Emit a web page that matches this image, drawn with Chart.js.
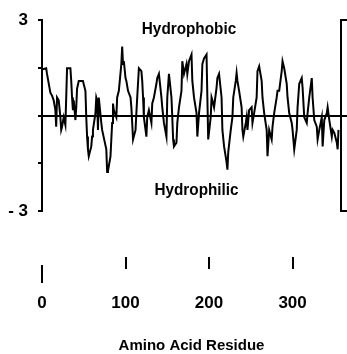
<!DOCTYPE html>
<html><head><meta charset="utf-8">
<script src="https://cdn.jsdelivr.net/npm/chart.js@4.4.1/dist/chart.umd.min.js"></script>
<style>html,body{margin:0;padding:0;background:#fff;overflow:hidden}</style>
</head><body>
<canvas id="c" width="347" height="354"></canvas>
<script>
const residues = [1,5,6,10,12,14,16,17,18,20,22,23,24,26,28,29,30,34,35,36,37,38,40,41,42,44,49,52,53,54,55,56,59,60,61,64,65,66,67,
68,71,72,77,78,79,82,83,84,85,86,89,90,92,95,96,97,98,100,101,103,106,107,108,109,112,113,114,116,119,120,121,122,125,126,128,131,132,134,137,138,140,
143,144,146,149,150,152,155,156,157,158,161,162,164,167,168,170,173,174,176,179,180,182,185,186,188,191,192,194,197,198,199,202,203,204,206,209,210,212,
215,216,218,221,222,223,226,228,229,232,233,234,236,239,240,241,244,245,246,248,251,252,254,257,258,260,263,264,266,269,270,272,275,276,278,281,282,284,
287,288,290,293,294,296,299,300,302,305,306,308,311,312,314,317,318,320,323,324,326,329,330,332,335,336,338,341,342,344,347,348,350,353,354,355];
const hydropathy = [1.46,1.49,1.31,0.72,0.63,0.48,0.17,-0.35,0.57,0.48,-0.05,-0.45,-0.35,-0.05,-0.29,0.57,1.49,1.49,1.09,0.57,0.17,0.48,-0.14,0.26,0.85,1.09,1.09,0.78,-0.05,-0.66,-1.06,-1.28,-0.97,-0.66,-0.45,0.08,0.57,0.48,-0.45,
0.57,-0.23,-0.45,-1.06,-1.77,-1.74,-1.28,-0.75,-0.23,0.38,0.17,-0.05,0.57,0.78,1.62,2.17,1.62,1.71,1.18,1.09,0.78,0.57,0.26,-0.23,-0.75,-0.45,0.08,0.57,1.49,1.40,1.09,0.57,-0.05,-0.66,-0.05,0.17,-0.23,0.38,0.57,1.00,1.18,1.31,
0.57,0.26,-0.23,-0.66,0.57,1.31,0.57,-0.05,-0.75,-0.97,-0.85,-0.23,0.26,0.78,1.71,1.31,1.62,1.31,1.71,1.92,1.09,0.57,0.08,-0.66,0.08,0.78,1.62,1.80,1.92,0.57,-0.75,-0.05,0.57,0.48,0.26,0.88,1.18,1.31,
0.57,-0.45,-0.97,-1.46,-1.70,-1.15,-0.45,-0.05,0.57,1.09,1.34,1.09,0.78,0.26,-0.45,-0.66,-0.23,-0.05,-0.45,0.17,0.26,-0.23,0.08,0.57,1.40,1.55,1.09,0.57,0.08,-0.45,-1.28,-0.45,-0.75,-0.35,0.08,0.57,0.78,0.78,
1.40,1.71,1.49,1.00,0.57,0.08,-0.23,-0.45,-1.06,-0.45,0.26,1.00,1.18,0.88,-0.05,-0.23,0.08,0.57,1.18,0.57,-0.14,-0.35,-0.75,-0.45,-0.05,-0.97,-0.14,0.08,0.26,-0.14,-0.66,-0.45,-0.54,-0.85,-1.06,-0.45];
const xTickValues = [0, 100, 200, 300];
const yTickValues = [-3, -1.5, 0, 1.5, 3];
const yLabelValues = [-3, 3];
const xTitle = 'Amino Acid Residue';
const upperNote = 'Hydrophobic';
const lowerNote = 'Hydrophilic';

const FONT = "'Liberation Sans Narrow','Arial Narrow','Liberation Sans',Arial,sans-serif";
Chart.defaults.font.family = FONT;
Chart.defaults.color = '#000';

const decor = {
  id: 'decor',
  afterDraw(chart) {
    const {ctx, chartArea, scales: {x, y}} = chart;
    ctx.save();
    ctx.strokeStyle = '#000';
    ctx.lineWidth = 2;
    xTickValues.forEach(v => {
      const px = Math.round(x.getPixelForValue(v));
      const t = chartArea.bottom + (v === 0 ? 54 : 46);
      const b = chartArea.bottom + (v === 0 ? 72 : 58);
      ctx.beginPath(); ctx.moveTo(px, t); ctx.lineTo(px, b); ctx.stroke();
    });
    ctx.fillStyle = '#000';
    ctx.font = "bold 17px " + FONT;
    ctx.textAlign = 'center';
    ctx.textBaseline = 'middle';
    const note = (txt, xv, yv) => {
      const px = x.getPixelForValue(xv), py = y.getPixelForValue(yv);
      ctx.save(); ctx.translate(px, py); ctx.scale(0.9, 1); ctx.fillText(txt, 0, 0); ctx.restore();
    };
    note(upperNote, 176, 2.72);
    note(lowerNote, 185, -2.36);
    ctx.restore();
  }
};

const setTicks = vals => s => { s.ticks = vals.map(v => ({value: v})); };

new Chart(document.getElementById('c'), {
  type: 'line',
  data: {
    datasets: [{
      data: residues.map((r, i) => ({x: r, y: hydropathy[i]})),
      borderColor: '#000',
      borderWidth: 2,
      pointRadius: 0,
      tension: 0,
      fill: false
    }]
  },
  options: {
    responsive: false,
    animation: false,
    layout: {padding: {top: 15, left: 0, right: 0, bottom: 0}},
    plugins: {legend: {display: false}, tooltip: {enabled: false}},
    scales: {
      x: {
        type: 'linear', min: 0, max: 358,
        afterBuildTicks: setTicks(xTickValues),
        afterFit: s => { s.height = 143; },
        grid: {display: true, drawOnChartArea: false, drawTicks: true, tickLength: 80, tickColor: 'rgba(0,0,0,0)', color: 'rgba(0,0,0,0)'},
        border: {display: false},
        ticks: {color: '#000', padding: 2, maxRotation: 0, autoSkip: false, font: {size: 17, weight: 'bold'}},
        title: {display: true, text: xTitle, color: '#000', font: {size: 15, weight: 'bold'}, padding: {top: 0, bottom: -1}}
      },
      y: {
        min: -3, max: 3,
        afterBuildTicks: setTicks(yTickValues),
        afterFit: s => { s.width = 42; },
        border: {display: true, color: '#000', width: 2},
        grid: {
          drawOnChartArea: true,
          color: c => (c.tick && c.tick.value === 0) ? '#000' : 'rgba(0,0,0,0)',
          lineWidth: 2, tickLength: 4, tickColor: '#000'
        },
        ticks: {
          color: '#000', padding: 10, font: {size: 17, weight: 'bold'},
          callback: v => yLabelValues.includes(v) ? (v < 0 ? '- ' + Math.abs(v) : String(v)) : ''
        }
      },
      y2: {
        position: 'right', min: -3, max: 3,
        afterBuildTicks: setTicks(yTickValues),
        afterFit: s => { s.width = 6; },
        border: {display: true, color: '#000', width: 2},
        grid: {
          drawOnChartArea: false, tickLength: 6, lineWidth: 2,
          tickColor: c => (c.tick && Math.abs(c.tick.value) === 1.5) ? 'rgba(0,0,0,0)' : '#000'
        },
        ticks: {display: false}
      }
    }
  },
  plugins: [decor]
});
</script>
</body></html>
